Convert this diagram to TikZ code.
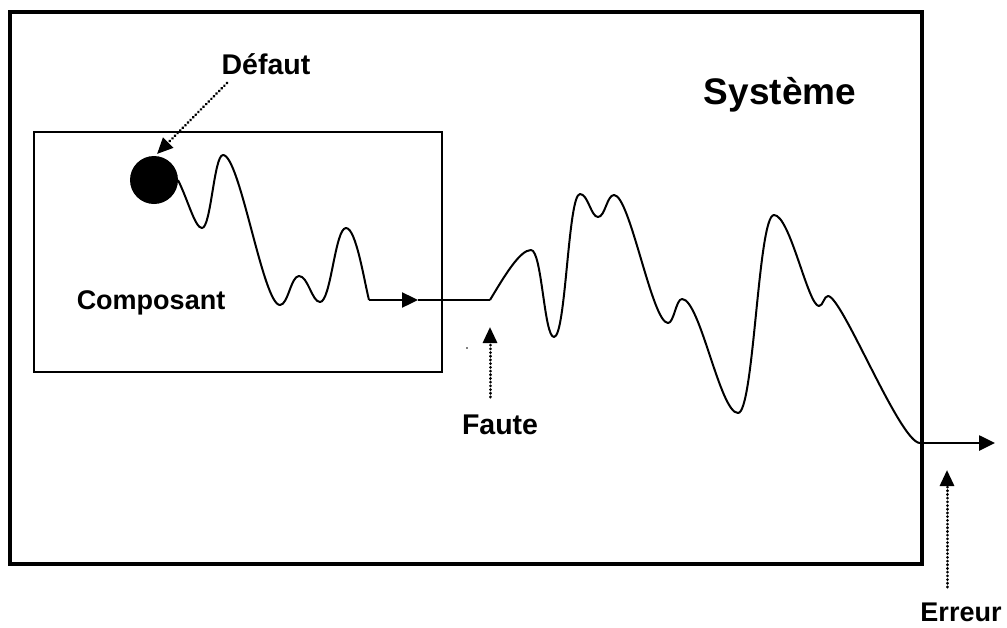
\documentclass[tikz,border=0pt]{standalone}
\usepackage{fontspec}
\setmainfont{Liberation Sans}
\usetikzlibrary{arrows.meta}
\begin{document}
\begin{tikzpicture}[x=1pt,y=-1pt,
  lbl/.style={font=\fontsize{28.5}{31}\selectfont\bfseries, inner sep=0pt},
  lbls/.style={font=\fontsize{27}{30}\selectfont\bfseries, inner sep=0pt},
  big/.style={font=\fontsize{37}{40}\selectfont\bfseries, inner sep=0pt},
  tip/.style={-{Triangle[length=16pt,width=15pt]}},
  dots/.style={-{Triangle[length=16pt,width=14pt]}, line width=3pt, line cap=round, dash pattern=on 0.1pt off 3.6pt},
  wave/.style={line width=2pt, line join=round}]
\useasboundingbox (0,0) rectangle (1007,627);
% boxes
\draw[line width=3.5pt] (10,12) rectangle (922,564);
\draw[line width=1.6pt] (34,132) rectangle (442,372);
% labels
\node[big] (sys) at (780,95) {Système};
\node[lbls] (comp) at (151,303) {Composant};
\node[lbl] (def) at (266,64) {Défaut};
\node[lbl] (fau) at (500,425) {Faute};
\node[lbls] (err) at (961,612) {Erreur};
% defect
\fill (154,180) circle (24);
\coordinate (defs) at (227,83);
\coordinate (deft) at (157,154);
\draw[dots] (defs) -- (deft);
% first wave
\coordinate (w0) at (178,180);
\coordinate (w7) at (369,300);
\draw[wave] (w0) .. controls (188,200) and (195,228) .. (202,228)
  .. controls (211,228) and (214,155) .. (223,155)
  .. controls (240,155) and (263,305) .. (280,305)
  .. controls (288,305) and (291,276) .. (299,276)
  .. controls (308,276) and (312,302) .. (320,302)
  .. controls (331,302) and (335,228) .. (346,228)
  .. controls (356,228) and (364,280) .. (w7);
\coordinate (h1) at (418,300);
\coordinate (h2) at (490,300);
\draw[line width=2.4pt, tip] (w7) -- (h1);
\draw[line width=2.4pt] (h1) -- (h2);
% second wave
\coordinate (e0) at (920,443);
\draw[wave] (h2) .. controls (505,275) and (520,250) .. (531,250)
  .. controls (542,250) and (544,337) .. (554,337)
  .. controls (566,337) and (568,194) .. (580,194)
  .. controls (588,194) and (591,217) .. (598,217)
  .. controls (605,217) and (607,195) .. (614,195)
  .. controls (630,195) and (652,323) .. (668,323)
  .. controls (674,323) and (676,299) .. (682,299)
  .. controls (700,299) and (720,413) .. (738,413)
  .. controls (754,413) and (758,215) .. (774,215)
  .. controls (790,215) and (808,306) .. (819,306)
  .. controls (823,306) and (824,296) .. (828,296)
  .. controls (842,296) and (900,443) .. (e0);
\coordinate (e1) at (995,443);
\draw[line width=2.6pt, tip] (e0) -- (e1);
% faute / erreur pointers
\coordinate (fs) at (490,397);
\coordinate (ft) at (490,327);
\draw[dots] (fs) -- (ft);
\coordinate (es) at (947,587);
\coordinate (et) at (947,470);
\draw[dots] (es) -- (et);
\fill (467,348) circle (0.9);
\end{tikzpicture}
\end{document}
